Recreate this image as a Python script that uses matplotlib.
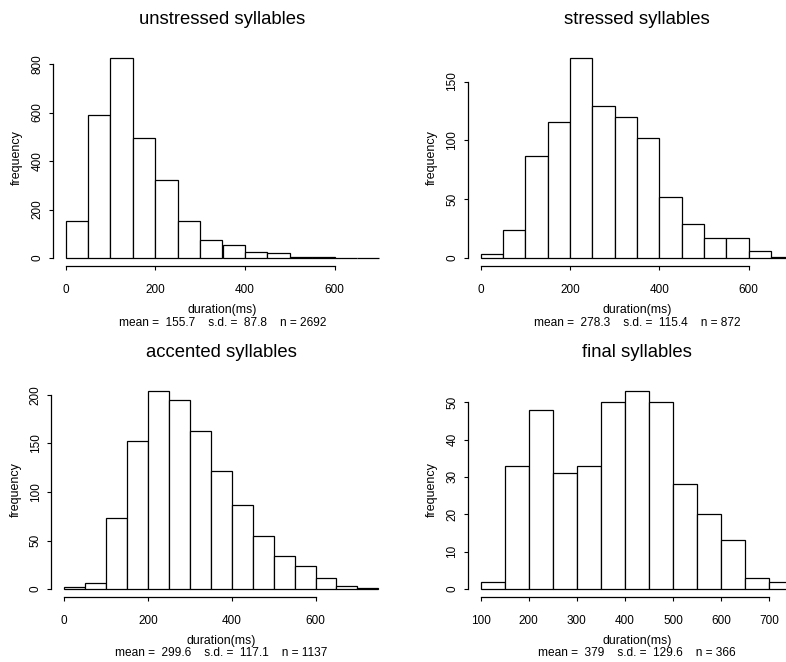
import numpy as np
import matplotlib
matplotlib.use("Agg")
import matplotlib.pyplot as plt

plt.rcParams['font.family'] = ['Liberation Sans', 'DejaVu Sans']

# ---- data ----
titles = ["unstressed syllables", "stressed syllables", "accented syllables", "final syllables"]

edges_unstressed = list(range(0, 701, 50))
counts_unstressed = [152, 589, 825, 494, 320, 152, 76, 55, 25, 19, 4, 3, 1, 1]

edges_stressed = list(range(0, 701, 50))
counts_stressed = [3, 24, 87, 116, 170, 129, 120, 102, 52, 29, 17, 17, 6, 1]

edges_accented = list(range(0, 751, 50))
counts_accented = [2, 6, 73, 152, 204, 195, 163, 122, 87, 55, 34, 24, 11, 3, 1]

edges_final = list(range(100, 751, 50))
counts_final = [2, 33, 48, 31, 33, 50, 53, 50, 28, 20, 13, 3, 2]

xticks_list = [[0, 200, 400, 600], [0, 200, 400, 600], [0, 200, 400, 600],
               [100, 200, 300, 400, 500, 600, 700]]
yticks_list = [[0, 200, 400, 600, 800], [0, 50, 100, 150], [0, 50, 100, 150, 200],
               [0, 10, 20, 30, 40, 50]]
stats_text = [
    "mean =  155.7    s.d. =  87.8    n = 2692",
    "mean =  278.3    s.d. =  115.4    n = 872",
    "mean =  299.6    s.d. =  117.1    n = 1137",
    "mean =  379    s.d. =  129.6    n = 366",
]

edges_all = [edges_unstressed, edges_stressed, edges_accented, edges_final]
counts_all = [counts_unstressed, counts_stressed, counts_accented, counts_final]

W, H = 786, 662
fig = plt.figure(figsize=(W / 100, H / 100), dpi=100)

# axes rectangles in pixels: left, right, top, bottom
rects_px = [(53, 392, 50, 266), (468, 806, 50, 266),
            (51.4, 391, 383, 597), (468, 806, 383, 597)]

for i in range(4):
    l, r, t, b = rects_px[i]
    ax = fig.add_axes([l / W, 1 - b / H, (r - l) / W, (b - t) / H])
    edges = np.array(edges_all[i], dtype=float)
    counts = np.array(counts_all[i], dtype=float)
    ax.bar(edges[:-1], counts, width=np.diff(edges), align='edge',
           facecolor='white', edgecolor='black', linewidth=0.9)
    xr = edges[-1] - edges[0]
    ax.set_xlim(edges[0] - 0.04 * xr, edges[-1] + 0.04 * xr)
    ymax = counts.max()
    ax.set_ylim(-0.04 * ymax, ymax * 1.04)
    for s in ['top', 'right']:
        ax.spines[s].set_visible(False)
    xt = xticks_list[i]
    yt = yticks_list[i]
    ax.spines['bottom'].set_bounds(xt[0], xt[-1])
    ax.spines['left'].set_bounds(yt[0], yt[-1])
    ax.spines['bottom'].set_linewidth(0.9)
    ax.spines['left'].set_linewidth(0.9)
    ax.set_xticks(xt)
    ax.set_yticks(yt)
    ax.set_xticklabels([str(v) for v in xt], fontsize=8.5)
    ax.set_yticklabels([str(v) for v in yt], fontsize=8.5, rotation=90, va='center')
    ax.tick_params(axis='both', length=3, width=0.8, direction='out')
    ax.tick_params(axis='x', pad=10)
    ax.tick_params(axis='y', pad=4)
    ax.set_ylabel("frequency", fontsize=9, labelpad=6)
    ax.set_title(titles[i], fontsize=13.3, pad=19)
    ax.text(0.5, -0.205, "duration(ms)", transform=ax.transAxes,
            ha='center', va='center', fontsize=8.8)
    ax.text(0.5, -0.262, stats_text[i], transform=ax.transAxes,
            ha='center', va='center', fontsize=8.6)

fig.savefig("out.png", dpi=100)
